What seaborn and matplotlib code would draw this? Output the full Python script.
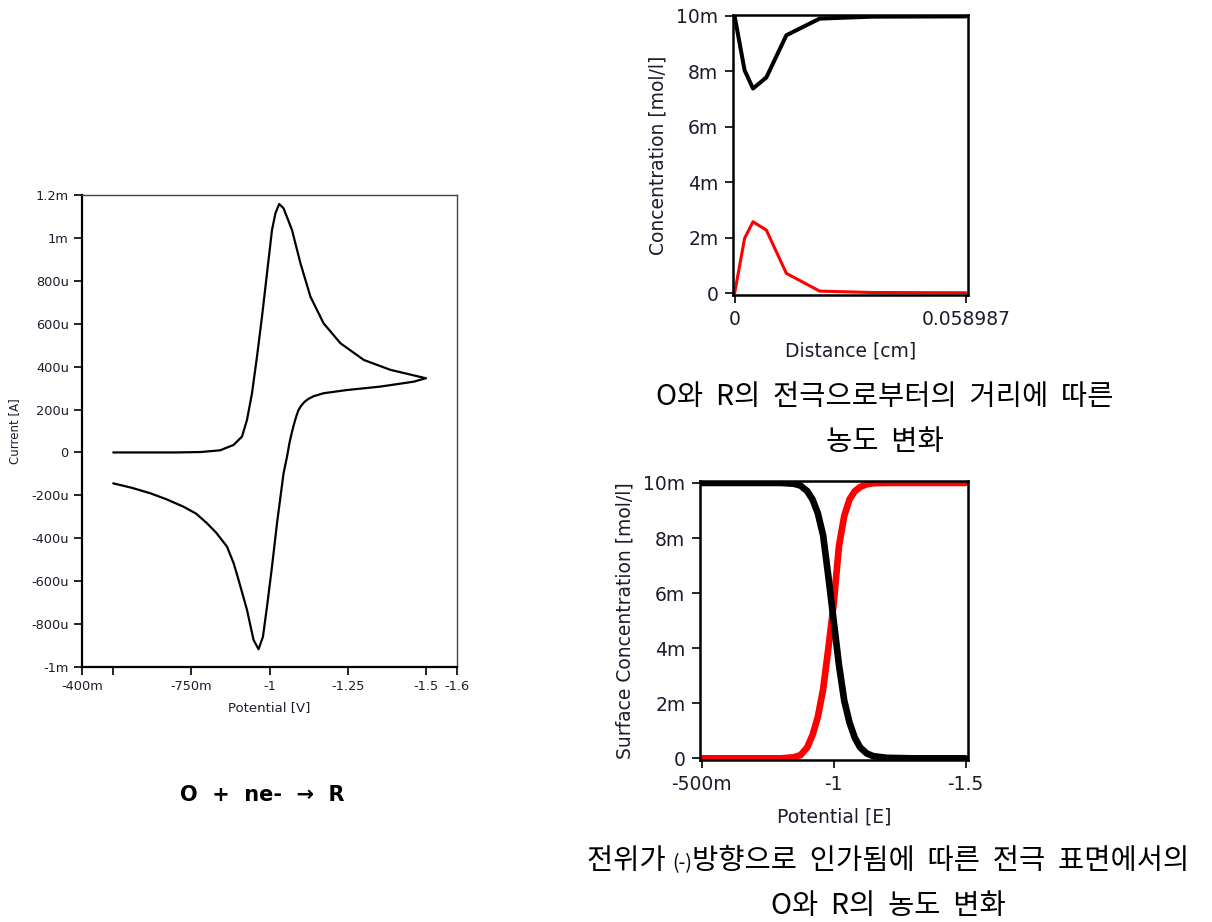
import numpy as np
import pandas as pd
import matplotlib
matplotlib.use("Agg")
import matplotlib.pyplot as plt
import seaborn as sns

# ---------------- data ----------------
# Cyclic voltammogram: forward scan (-0.5 -> -1.5 V) and reverse scan (-1.5 -> -0.5 V), current in uA
cv_fwd_E = [-0.5, -0.7, -0.78, -0.842, -0.885, -0.912, -0.928, -0.944, -0.96, -0.976, -0.992,
            -1.008, -1.019, -1.031, -1.045, -1.072, -1.099, -1.131, -1.173, -1.227, -1.302, -1.387, -1.5]
cv_fwd_I = [0, 0, 2, 10, 35, 74, 152, 276, 447, 633, 835,
            1037, 1115, 1158, 1138, 1037, 882, 726, 602, 509, 431, 385, 346]
cv_rev_E = [-1.5, -1.462, -1.355, -1.248, -1.173, -1.141, -1.125, -1.112, -1.1, -1.092, -1.085,
            -1.078, -1.071, -1.064, -1.056, -1.045, -1.024, -1.008, -0.992, -0.979, -0.965, -0.949,
            -0.928, -0.901, -0.885, -0.864, -0.83, -0.8, -0.765, -0.725, -0.67, -0.618, -0.56, -0.5]
cv_rev_I = [346, 330, 307, 291, 276, 262, 250, 236, 215, 195, 165,
            130, 90, 45, -20, -97, -330, -532, -719, -859, -917, -874,
            -734, -594, -515, -439, -375, -330, -285, -253, -218, -190, -165, -144]

# Concentration profile vs distance (cm), concentrations in mmol/l
dist_cm = [0.0, 0.00255, 0.0047, 0.0081, 0.0132, 0.0217, 0.035, 0.058987]
conc_O = [10.0, 8.04, 7.38, 7.78, 9.3, 9.9, 9.97, 9.98]
conc_R = [0.0, 1.98, 2.58, 2.28, 0.72, 0.08, 0.03, 0.02]

# Surface concentration vs potential (V), mmol/l
surf_E = [-0.5, -0.6, -0.7, -0.8, -0.85, -0.875, -0.9, -0.92, -0.94, -0.96, -0.98, -1.0,
          -1.02, -1.04, -1.06, -1.08, -1.1, -1.125, -1.15, -1.2, -1.3, -1.4, -1.5]
surf_O = [10, 10, 10, 10, 9.97, 9.9, 9.7, 9.4, 8.9, 8.1, 6.6, 5.0,
          3.4, 2.1, 1.3, 0.75, 0.4, 0.18, 0.08, 0.02, 0, 0, 0]
surf_R = [0, 0, 0, 0, 0.04, 0.12, 0.4, 0.85, 1.5, 2.5, 4.0, 5.6,
          7.7, 8.8, 9.4, 9.7, 9.85, 9.95, 9.99, 10, 10, 10, 10]

cv_xticks = [-0.4, -0.5, -0.75, -1.0, -1.25, -1.5, -1.6]
cv_xlabels = ["-400m", "", "-750m", "-1", "-1.25", "-1.5", "-1.6"]
cv_yticks = [1200, 1000, 800, 600, 400, 200, 0, -200, -400, -600, -800, -1000]
cv_ylabels = ["1.2m", "1m", "800u", "600u", "400u", "200u", "0", "-200u", "-400u", "-600u", "-800u", "-1m"]
conc_yticks = [0, 2, 4, 6, 8, 10]
conc_ylabels = ["0", "2m", "4m", "6m", "8m", "10m"]
dist_xticks = [0, 0.058987]
dist_xlabels = ["0", "0.058987"]
surf_xticks = [-0.5, -1.0, -1.5]
surf_xlabels = ["-500m", "-1", "-1.5"]

# ---------------- style ----------------
sns.set_theme(style="white")
plt.rcParams['font.family'] = ['DejaVu Sans', 'Noto Sans CJK KR']
TXT = '#1c1c2c'

fig = plt.figure(figsize=(12.12, 9.22), dpi=100)
W, H = 1212, 922

def add_ax(x0, y0, x1, y1):
    return fig.add_axes([x0 / W, 1 - y1 / H, (x1 - x0) / W, (y1 - y0) / H])

def style_ax(ax, fs, lw_main=1.5, lw_other=1.2, other_color='black', pad=4):
    for s in ['left', 'bottom']:
        ax.spines[s].set_color('black')
        ax.spines[s].set_linewidth(lw_main)
    for s in ['top', 'right']:
        ax.spines[s].set_color(other_color)
        ax.spines[s].set_linewidth(lw_other)
        ax.spines[s].set_visible(True)
    ax.tick_params(axis='both', which='both', direction='out', length=6, width=1.2,
                   color='black', labelsize=fs, labelcolor=TXT, pad=pad,
                   left=True, bottom=True, top=False, right=False)
    ax.grid(False)

# ---- left CV plot ----
ax1 = add_ax(82, 195, 457, 667)
df_f = pd.DataFrame({'E': cv_fwd_E, 'I': cv_fwd_I})
df_r = pd.DataFrame({'E': cv_rev_E, 'I': cv_rev_I})
sns.lineplot(data=df_f, x='E', y='I', sort=False, estimator=None, color='black', lw=1.6, ax=ax1)
sns.lineplot(data=df_r, x='E', y='I', sort=False, estimator=None, color='black', lw=1.6, ax=ax1)
ax1.set_xlim(-0.4, -1.6)
ax1.set_ylim(-1000, 1200)
ax1.set_xticks(cv_xticks)
ax1.set_xticklabels(cv_xlabels)
ax1.set_yticks(cv_yticks)
ax1.set_yticklabels(cv_ylabels)
style_ax(ax1, 9.3, lw_main=1.6, lw_other=1.0, other_color='#444444', pad=3.5)
ax1.set_xlabel("Potential [V]", fontsize=9.5, color=TXT, labelpad=6)
ax1.set_ylabel("Current [A]", fontsize=8.5, color=TXT, labelpad=7)

# ---- top right: concentration vs distance ----
ax2 = add_ax(733, 15, 968, 295)
sns.lineplot(x=dist_cm, y=conc_O, sort=False, estimator=None, color='black', lw=2.9, ax=ax2)
sns.lineplot(x=dist_cm, y=conc_R, sort=False, estimator=None, color='#ff0000', lw=2.2, ax=ax2)
ax2.set_xlim(-0.0004, 0.0595)
ax2.set_ylim(-0.06, 10.03)
ax2.set_xticks(dist_xticks)
ax2.set_xticklabels(dist_xlabels)
ax2.set_yticks(conc_yticks)
ax2.set_yticklabels(conc_ylabels)
style_ax(ax2, 13.5, lw_main=1.8, lw_other=1.8, pad=4.5)
ax2.set_xlabel("Distance [cm]", fontsize=13.5, color=TXT, labelpad=9)
ax2.set_ylabel("Concentration [mol/l]", fontsize=13.5, color=TXT, labelpad=6)

# ---- bottom right: surface concentration vs potential ----
ax3 = add_ax(700, 481, 968, 760)
sns.lineplot(x=surf_E, y=surf_R, sort=False, estimator=None, color='#ff0000', lw=4.8, ax=ax3)
sns.lineplot(x=surf_E, y=surf_O, sort=False, estimator=None, color='black', lw=4.8, ax=ax3)
ax3.set_xlim(-0.4936, -1.509)
ax3.set_ylim(-0.06, 10.07)
ax3.set_xticks(surf_xticks)
ax3.set_xticklabels(surf_xlabels)
ax3.set_yticks(conc_yticks)
ax3.set_yticklabels(conc_ylabels)
style_ax(ax3, 13.5, lw_main=1.8, lw_other=1.8, pad=4.5)
ax3.set_xlabel("Potential [E]", fontsize=13.5, color=TXT, labelpad=10)
ax3.set_ylabel("Surface Concentration [mol/l]", fontsize=13.5, color=TXT, labelpad=6)

# ---- captions ----
kfam = ['Noto Sans CJK KR', 'DejaVu Sans']
KS = 20.5
renderer = fig.canvas.get_renderer()

def rich_line(pieces, xc, yc):
    """pieces: list of (text, fontsize). Centered horizontally at xc (px), baseline at yc (px from top)."""
    objs = []
    for txt, fs in pieces:
        t = fig.text(0, 1 - yc / H, txt, ha='left', va='baseline', fontsize=fs,
                     family=kfam, color='black', transform=fig.transFigure)
        objs.append(t)
    widths = [o.get_window_extent(renderer=renderer).width for o in objs]
    x = xc - sum(widths) / 2
    for o, w in zip(objs, widths):
        o.set_x(x / W)
        x += w

rich_line([("O와  R의  전극으로부터의  거리에  따른", KS)], 885, 405)
rich_line([("농도  변화", KS)], 885, 450)
rich_line([("전위가 ", KS), ("(-)", 14), ("방향으로  인가됨에  따른  전극  표면에서의", KS)], 888, 869)
rich_line([("O와  R의  농도  변화", KS)], 888, 914)
fig.text(262 / W, 1 - 795 / H, "O  +  ne-  →  R", ha='center', va='center',
         fontsize=15, fontweight='bold', family=['DejaVu Sans'], color='black')

fig.savefig("out.png", dpi=100)
